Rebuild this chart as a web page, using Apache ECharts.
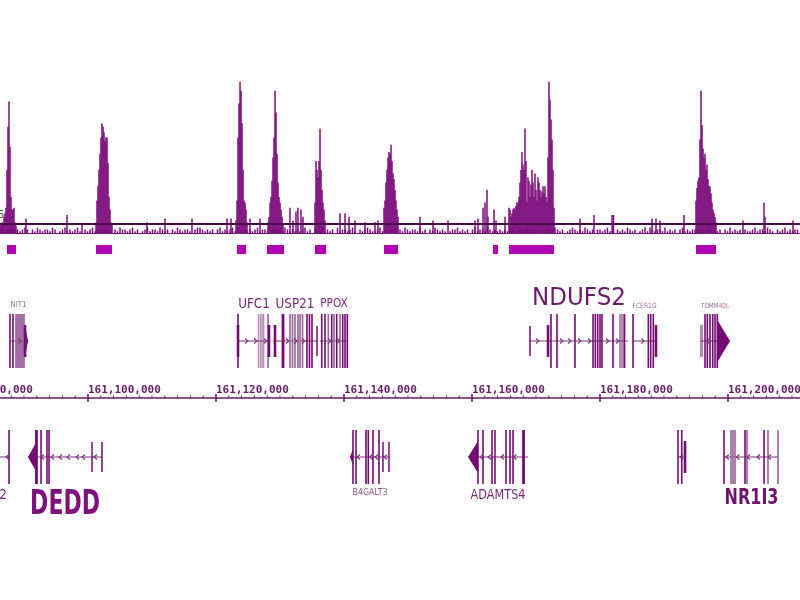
<!DOCTYPE html>
<html><head><meta charset="utf-8">
<script src="https://cdn.jsdelivr.net/npm/echarts/dist/echarts.min.js"></script>
<style>html,body{margin:0;padding:0;background:#fff}#c{width:800px;height:600px}</style>
</head><body><div id="c"></div>
<script>
// ===== DATA (genomic positions in kb, chr1) =====
const viewMin = 161086.25, viewMax = 161211.25;      // visible window
const tickVals = [161080, 161100, 161120, 161140, 161160, 161180, 161200, 161220];
const minorPerMajor = 10;
const sigBin = 0.15625;            // kb per signal bin
const sigThreshold = 5;            // threshold line value

// signal peaks: start of each segment and per-bin values
const peakSegStart = [161086.25, 161101.25, 161123.13, 161128.13, 161135.47, 161146.25, 161165.78, 161195.00];
const peakSegValues = [
  [5,4,6,5,9,11,14,35,59,73,48,20,13,13,14,6,4],
  [6,18,26,35,44,53,61,59,56,51,53,53,39,20,13,6,5],
  [7,18,53,72,84,79,61,35,18,17,13,6],
  [6,9,17,20,29,42,53,79,67,44,28,20,17,13,9,5],
  [17,40,35,31,40,58,35,24,17,13,7],
  [14,18,28,35,42,45,44,49,40,33,30,24,18,13,9],
  [14,13,9,11,13,14,13,15,17,17,20,28,35,45,38,35,58,40,17,31,29,20,27,35,28,20,33,24,18,31,28,24,20,23,26,22,26,20,17,42,84,74,63,52,35,14],
  [18,25,29,31,52,79,60,47,42,44,35,38,30,26,26,22,17,13,11,9,6]
];
// isolated spikes
const spikePos = [161090.31,161096.72,161099.06,161109.22,161112.03,161116.25,161121.72,161122.34,161125.31,161126.88,
  161131.56,161132.03,161132.50,161132.81,161133.28,161133.59,161139.38,161140.16,161140.78,161141.72,161143.28,161144.84,161145.31,
  161151.88,161153.91,161156.25,161160.47,161160.94,161161.72,161162.03,161162.34,161162.50,161163.44,161163.75,161165.16,
  161176.88,161179.06,161181.88,161182.11,161188.13,161188.75,161189.38,161193.13,161202.34,161205.63,161205.78,161210.16];
const spikeVal = [8,10,5,6,8,8,8,8,8,8,
  14,7,12,14,13,9,11,11,9,7,6,6,7,
  9,7,7,7,8,14,17,24,9,13,7,9,
  8,10,10,10,8,8,7,10,7,17,9,7];
// low background signal
const noiseStart = 161086.25, noiseBin = 0.390625;
const noiseVal = [
  2,3,1,2,2,3,1,2,1,2,3,2,0,2,1,3,2,1,2,2,
  1,3,2,0,1,2,3,1,2,1,2,3,1,0,2,1,2,3,1,2,
  2,1,3,2,1,0,2,1,3,2,2,1,2,3,1,2,0,1,2,3,
  1,2,2,1,3,2,1,2,0,2,1,3,2,1,2,2,1,0,2,3,
  3,2,1,2,1,2,0,2,3,1,2,1,2,3,1,2,1,0,2,1,
  2,1,2,3,1,2,2,1,0,2,3,1,2,1,3,2,1,2,1,2,
  1,2,3,1,2,0,2,1,2,3,1,2,1,2,0,3,1,2,2,1,
  2,3,1,0,2,1,2,3,2,1,1,2,3,1,2,0,2,1,3,2,
  2,1,3,2,1,2,2,1,3,1,2,0,2,1,3,2,1,2,1,0,
  1,2,2,3,1,2,1,2,0,2,3,1,2,2,1,3,2,1,2,1,
  2,1,2,1,3,2,1,0,2,1,2,3,1,2,2,1,0,2,1,3,
  1,2,3,2,1,2,0,1,2,3,2,1,2,1,3,2,1,2,0,2,
  2,1,2,3,1,2,0,2,1,2,1,3,2,1,2,0,1,2,3,1,
  3,2,1,2,2,1,3,1,2,1,2,0,2,3,1,2,1,2,2,1,
  2,1,0,2,3,1,2,1,2,0,2,1,3,1,2,1,2,0,2,1,
  1,2,3,1,2,2,1,3,2,1,0,2,1,2,3,1,2,1,2,2];
// called peak regions
const peakBlockStart = [161087.34,161101.25,161123.28,161127.97,161135.47,161146.25,161163.28,161165.78,161195.00];
const peakBlockEnd   = [161088.75,161103.75,161124.69,161130.63,161137.19,161148.44,161164.06,161172.81,161198.13];

// genes
const geneNames  = ['NIT1','UFC1','USP21','PPOX','NDUFS2','FCER1G','TOMM40L','PFDN2','DEDD','B4GALT3','ADAMTS4','APOA2','NR1I3'];
const geneStrand = [1,1,1,1,1,1,1,-1,-1,-1,-1,-1,-1];
const geneStart  = [161087.66,161123.44,161128.91,161136.25,161169.06,161185.16,161195.63,161070.33,161090.63,161140.94,161159.38,161192.19,161199.38];
const geneEnd    = [161090.63,161128.44,161135.78,161140.63,161184.38,161188.75,161200.31,161087.66,161102.19,161147.19,161168.75,161193.44,161207.97];
const geneLabelAt = [null,null,null,null,null,null,null,161084.22,null,null,null,null,null];
const geneExons = [
  [161087.81,161088.28],
  [161123.44],
  [161134.22,161134.61,161135.00],
  [161136.52,161137.03,161138.08,161138.86,161139.80,161140.16,161140.52],
  [161172.34,161173.28,161176.09,161178.91,161179.27,161179.64,161180.00,161180.31,161182.03,161183.83],
  [161185.16,161187.55,161187.92,161188.33],
  [161196.41,161196.77,161197.19,161197.61,161197.97,161198.33],
  [161087.66],
  [161092.66,161093.59,161093.91],
  [161141.41,161141.88,161143.44,161143.80,161144.53,161145.47],
  [161160.94,161161.72,161163.13,161163.59,161165.31,161165.94,161166.41],
  [161192.19,161192.77],
  [161199.38,161202.66,161205.63]
];
const geneLightExons = [
  [161088.75,161089.06,161089.38,161089.69,161090.00],
  [161128.13],
  [161131.56,161131.95,161132.34,161132.81,161133.13,161133.52],
  [161137.55,161138.44,161139.38],
  [], [], [], [], [], [], [], [],
  [161200.47,161200.78,161201.09,161202.97,161206.25,161207.81]
];
const geneThickExons = [[],[],[161130.47],[],[],[],[],[],[161091.95],[],[161168.05],[],[]];
const geneUtr = [[161090.16],[161123.44,161128.28],[161129.22],[],[161171.88],[161188.75],[],[],[],[],[],[161193.28],[]];
const geneMid = [[],[],[161135.78],[],[161169.06],[],[],[],[161100.63,161102.19],[161146.09,161147.03],[],[],[]];
const geneBands = [
  [[161088.75,161090.00]],
  [[161126.52,161126.77],[161126.88,161127.14],[161127.23,161127.55]],
  [],[],[[161182.97,161183.91]],[],[],[],[],[],[],[],[]
];
const geneShortBands = [[],[],[],[],[],[],[[161195.63,161196.09]],[],[],[],[],[],[]];
const geneHead = [[161090.16,161090.63],null,null,null,null,null,[161198.44,161200.31],null,[161092.03,161090.63],[161141.41,161140.94],[161160.94,161159.38],null,null];
const geneChevrons = [
  [161089.38],
  [161124.84,161126.25,161127.81],
  [161131.25,161132.50,161133.75],
  [161137.81,161139.22],
  [161170.31,161174.06,161175.31,161176.88,161178.44,161181.25,161182.81],
  [161186.77],
  [161197.19],
  [161087.34],
  [161092.81,161094.38,161095.63,161096.88,161098.28,161099.22,161101.09],
  [161142.19,161144.14,161145.00,161146.41],
  [161161.41,161162.66,161164.69,161166.64],
  [161192.66],
  [161199.84,161201.48,161203.13,161204.69,161206.41]
];

// ===== STYLE =====
const C = {sig:'#7c0c7c', thr:'#4a0a4a', block:'#b000b0', dark:'#730c73', light:'#9e6a9e', band:'#b58ab5', intron:'#7a357a', axis:'#671a67'};
const labelStyle = {
  NIT1:{size:7, color:'#9b6b9b', dy:-9, sy:1.2},
  UFC1:{size:12, color:'#772a77', dy:-10, sy:1.2},
  USP21:{size:12, color:'#772a77', dy:-10, sy:1.2},
  PPOX:{size:10.5, color:'#772a77', dy:-10, sy:1.2},
  NDUFS2:{size:23, color:'#6b1a6b', dy:-15, sy:1.08},
  FCER1G:{size:6, color:'#9b6b9b', dy:-8, sy:1.2},
  TOMM40L:{size:5.7, color:'#9b6b9b', dy:-8, sy:1.2},
  PFDN2:{size:12, color:'#772a77', dy:11, sy:1.2},
  DEDD:{size:22, weight:'bold', color:'#7d127d', dy:21, sy:1.5},
  B4GALT3:{size:7.9, color:'#8c5a8c', dy:9, sy:1.2},
  ADAMTS4:{size:11.3, color:'#772a77', dy:11, sy:1.2},
  APOA2:{hide:true},
  NR1I3:{size:16, weight:'bold', color:'#6e146e', dy:15, sy:1.3}
};
const headHalf = {NIT1:16, TOMM40L:20, DEDD:16, B4GALT3:8, ADAMTS4:16};
const SHORT = 16, MID = 15;

// ===== BUILD =====
const sigData = [];
noiseVal.forEach((v,i)=>{ if(v>0) sigData.push([noiseStart + i*noiseBin, v]); });
spikePos.forEach((p,i)=>sigData.push([p, spikeVal[i]]));
peakSegStart.forEach((s,k)=>peakSegValues[k].forEach((v,i)=>sigData.push([s + i*sigBin, v])));

const minorVals = [];
for (let k=0;k<tickVals.length-1;k++){
  const a=tickVals[k], b=tickVals[k+1];
  for (let j=1;j<minorPerMajor;j++) minorVals.push(a+(b-a)*j/minorPerMajor);
}

function fmt(v){ return String(Math.round(v*1000)).replace(/\B(?=(\d{3})+(?!\d))/g, ','); }

function renderGene(params, api){
  const g = api.value(2);
  const yTop = api.coord([viewMin,1])[1], yBot = api.coord([viewMin,0])[1];
  const cy = (yTop+yBot)/2;
  const X = kb => api.coord([kb,0])[0];
  const ch = [];
  const name = geneNames[g];
  geneBands[g].forEach(b=>ch.push({type:'rect', shape:{x:X(b[0]), y:yTop, width:Math.max(1,X(b[1])-X(b[0])), height:yBot-yTop}, style:{fill:C.band}}));
  geneShortBands[g].forEach(b=>ch.push({type:'rect', shape:{x:X(b[0]), y:cy-SHORT, width:Math.max(1,X(b[1])-X(b[0])), height:2*SHORT}, style:{fill:C.band}}));
  ch.push({type:'line', shape:{x1:X(geneStart[g]), y1:cy, x2:X(geneEnd[g]), y2:cy}, style:{stroke:C.intron, lineWidth:1}});
  geneLightExons[g].forEach(p=>ch.push({type:'line', shape:{x1:X(p),y1:yTop,x2:X(p),y2:yBot}, style:{stroke:C.light, lineWidth:1.7}}));
  geneExons[g].forEach(p=>ch.push({type:'line', shape:{x1:X(p),y1:yTop,x2:X(p),y2:yBot}, style:{stroke:C.dark, lineWidth:1.6}}));
  geneThickExons[g].forEach(p=>ch.push({type:'rect', shape:{x:X(p)-1.4,y:yTop,width:2.8,height:yBot-yTop}, style:{fill:C.dark}}));
  geneUtr[g].forEach(p=>ch.push({type:'rect', shape:{x:X(p)-1.3,y:cy-SHORT,width:2.6,height:2*SHORT}, style:{fill:C.dark}}));
  geneMid[g].forEach(p=>ch.push({type:'line', shape:{x1:X(p),y1:cy-MID,x2:X(p),y2:cy+MID}, style:{stroke:C.dark, lineWidth:1.5}}));
  const h = geneHead[g];
  if (h){
    const hh = headHalf[name] || 16;
    ch.push({type:'polygon', shape:{points:[[X(h[0]),cy-hh],[X(h[0]),cy+hh],[X(h[1]),cy]]}, style:{fill:C.dark}});
  }
  const d = geneStrand[g];
  geneChevrons[g].forEach(p=>{
    const x = X(p);
    ch.push({type:'polyline', shape:{points:[[x-2*d,cy-2.5],[x+1*d,cy],[x-2*d,cy+2.5]]}, style:{stroke:C.intron, lineWidth:1.1, fill:null}});
  });
  const ls = labelStyle[name];
  if (ls && !ls.hide){
    const lx = X(geneLabelAt[g] != null ? geneLabelAt[g] : (geneStart[g]+geneEnd[g])/2);
    const ly = (d>0 ? yTop : yBot) + ls.dy;
    ch.push({type:'text', x:lx, y:ly, scaleY:ls.sy, style:{text:name, fontSize:ls.size, fontWeight:ls.weight||'normal', fontFamily:'DejaVu Sans', fill:ls.color, align:'center', verticalAlign:'middle'}});
  }
  return {type:'group', children:ch};
}

function renderMajorTick(params, api){
  const p = api.coord([api.value(0),0]);
  return {type:'group', children:[
    {type:'line', shape:{x1:p[0],y1:p[1]-4,x2:p[0],y2:p[1]+4}, style:{stroke:C.axis, lineWidth:1.6}},
    {type:'text', x:p[0], y:p[1]-8, style:{text:fmt(api.value(0)), fontSize:11, fontWeight:'bold', fontFamily:'DejaVu Sans Mono', fill:C.axis, align:'left', verticalAlign:'middle'}}
  ]};
}
function renderMinorTick(params, api){
  const p = api.coord([api.value(0),0]);
  return {type:'line', shape:{x1:p[0],y1:p[1]-2.5,x2:p[0],y2:p[1]}, style:{stroke:C.axis, lineWidth:1}};
}

const G = {left:0, right:0};
const hiddenX = i => ({type:'value', gridIndex:i, min:viewMin, max:viewMax, show:false});
const hiddenY = (i,max) => ({type:'value', gridIndex:i, min:0, max:max, show:false});

const option = {
  animation:false,
  backgroundColor:'#ffffff',
  grid:[
    Object.assign({top:53, height:180}, G),
    Object.assign({top:245, height:9}, G),
    Object.assign({top:314, height:54}, G),
    Object.assign({top:380, height:18}, G),
    Object.assign({top:430, height:54}, G)
  ],
  xAxis:[
    {type:'value', gridIndex:0, min:viewMin, max:viewMax, axisLine:{show:true, onZero:false, lineStyle:{color:'#6e1e6e', width:1}}, axisTick:{show:false}, axisLabel:{show:false}, splitLine:{show:false}},
    hiddenX(1), hiddenX(2),
    {type:'value', gridIndex:3, min:viewMin, max:viewMax, position:'bottom',
      axisLine:{show:true, onZero:false, lineStyle:{color:C.axis, width:1.6}},
      axisTick:{show:false}, axisLabel:{show:false}, splitLine:{show:false}},
    hiddenX(4)
  ],
  yAxis:[hiddenY(0,100), hiddenY(1,1), hiddenY(2,1), hiddenY(3,1), hiddenY(4,1)],
  graphic:[{type:'text', left:-2, top:210, style:{text:'5', fontSize:10, fontFamily:'DejaVu Sans', fill:'#444'}}],
  series:[
    {type:'bar', xAxisIndex:0, yAxisIndex:0, data:sigData, barWidth:1.5, itemStyle:{color:C.sig},
      markLine:{silent:true, symbol:'none', label:{show:false}, lineStyle:{color:C.thr, width:2, type:'solid'}, data:[{yAxis:sigThreshold}]}},
    {type:'custom', xAxisIndex:1, yAxisIndex:1, data:peakBlockStart.map((s,i)=>[s, peakBlockEnd[i]]),
      renderItem:(p,api)=>{const a=api.coord([api.value(0),1]), b=api.coord([api.value(1),0]); return {type:'rect', shape:{x:a[0],y:a[1],width:b[0]-a[0],height:b[1]-a[1]}, style:{fill:C.block}};}},
    {type:'custom', xAxisIndex:2, yAxisIndex:2, data:geneNames.map((n,i)=>[geneStart[i],0.5,i]).filter(d=>geneStrand[d[2]]>0), renderItem:renderGene},
    {type:'custom', xAxisIndex:3, yAxisIndex:3, data:tickVals.map(v=>[v,0]), renderItem:renderMajorTick},
    {type:'custom', xAxisIndex:3, yAxisIndex:3, data:minorVals.map(v=>[v,0]), renderItem:renderMinorTick},
    {type:'custom', xAxisIndex:4, yAxisIndex:4, data:geneNames.map((n,i)=>[geneStart[i],0.5,i]).filter(d=>geneStrand[d[2]]<0), renderItem:renderGene}
  ]
};
const chart = echarts.init(document.getElementById('c'));
chart.setOption(option);
</script>
</body></html>
